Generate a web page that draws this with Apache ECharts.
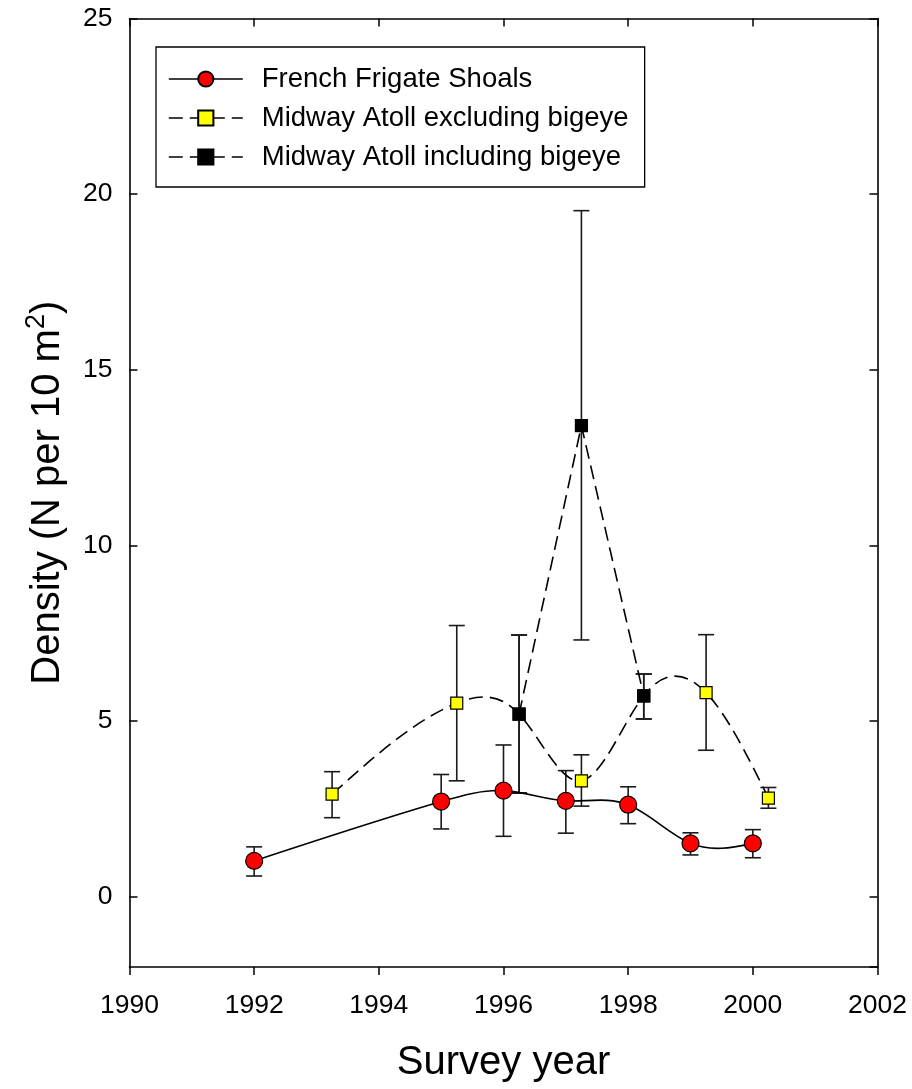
<!DOCTYPE html>
<html><head><meta charset="utf-8">
<script src="https://cdn.jsdelivr.net/npm/echarts@6/dist/echarts.min.js"></script>
<style>html,body{margin:0;padding:0;background:#fff}#c{width:912px;height:1089px}</style>
</head><body><div id="c"></div>
<script>
// ---- data ----
const ffsYears = [1992, 1995, 1996, 1997, 1998, 1999, 2000];
const ffsMean  = [1.02, 2.71, 3.02, 2.73, 2.62, 1.52, 1.52];
const ffsLow   = [0.59, 1.93, 1.72, 1.81, 2.08, 1.19, 1.11];
const ffsHigh  = [1.42, 3.48, 4.32, 3.59, 3.13, 1.82, 1.91];

const exYears = [1993.25, 1995.25, 1996.25, 1997.25, 1998.25, 1999.25, 2000.25];
const exMean  = [2.92, 5.51, 5.20, 3.30, 5.72, 5.81, 2.81];
const exLow   = [2.25, 3.30, 2.95, 2.58, 5.06, 4.17, 2.52];
const exHigh  = [3.56, 7.72, 7.45, 4.04, 6.34, 7.46, 3.11];

const inYears = [1996.25, 1997.25, 1998.25];
const inMean  = [5.20, 13.41, 5.72];
const inLow   = [2.95, 7.31, 5.06];
const inHigh  = [7.45, 19.53, 6.34];

const seriesNames = ['French Frigate Shoals', 'Midway Atoll excluding bigeye', 'Midway Atoll including bigeye'];
const xTicks = [1990, 1992, 1994, 1996, 1998, 2000, 2002];

// ---- helpers ----
const FONT = '"Liberation Sans", Arial, sans-serif';
const DASH = [14, 7];
const pts = (xs, ys) => xs.map((x, i) => [x, ys[i]]);
const errs = (xs, lo, hi) => xs.map((x, i) => [x, lo[i], hi[i]]);

function errRender(params, api) {
  const x = api.value(0), lo = api.value(1), hi = api.value(2);
  const p1 = api.coord([x, hi]), p2 = api.coord([x, lo]);
  const w = 8;
  const style = { stroke: '#1a1a1a', lineWidth: 1.6 };
  return { type: 'group', children: [
    { type: 'line', shape: { x1: p1[0], y1: p1[1], x2: p2[0], y2: p2[1] }, style },
    { type: 'line', shape: { x1: p1[0] - w, y1: p1[1], x2: p1[0] + w, y2: p1[1] }, style },
    { type: 'line', shape: { x1: p2[0] - w, y1: p2[1], x2: p2[0] + w, y2: p2[1] }, style }
  ]};
}
function errSeries(data) {
  return { type: 'custom', renderItem: errRender, data, encode: { x: 0, y: [1, 2] },
           z: 2, silent: true, clip: false };
}

// natural cubic spline slopes (data space) for a smooth curve through the data points
function splineSlopes(xs, ys) {
  const n = xs.length, h = [], M = new Array(n).fill(0);
  for (let i = 0; i < n - 1; i++) h.push(xs[i + 1] - xs[i]);
  if (n > 2) {
    const a = [], b = [], c = [], d = [];
    for (let i = 1; i < n - 1; i++) {
      a.push(h[i - 1]); b.push(2 * (h[i - 1] + h[i])); c.push(h[i]);
      d.push(6 * ((ys[i + 1] - ys[i]) / h[i] - (ys[i] - ys[i - 1]) / h[i - 1]));
    }
    const m = b.length;
    for (let i = 1; i < m; i++) { const w = a[i] / b[i - 1]; b[i] -= w * c[i - 1]; d[i] -= w * d[i - 1]; }
    const sol = new Array(m);
    sol[m - 1] = d[m - 1] / b[m - 1];
    for (let i = m - 2; i >= 0; i--) sol[i] = (d[i] - c[i] * sol[i + 1]) / b[i];
    for (let i = 0; i < m; i++) M[i + 1] = sol[i];
  }
  const s = [];
  for (let i = 0; i < n - 1; i++) s.push((ys[i + 1] - ys[i]) / h[i] - h[i] * (2 * M[i] + M[i + 1]) / 6);
  s.push((ys[n - 1] - ys[n - 2]) / h[n - 2] + h[n - 2] * (M[n - 2] + 2 * M[n - 1]) / 6);
  return s;
}
function curveSeries(xs, ys, dash) {
  const slopes = splineSlopes(xs, ys);
  return {
    type: 'custom', data: pts(xs, ys), encode: { x: 0, y: 1 }, z: 3, silent: true, clip: false,
    renderItem: function (params, api) {
      if (params.dataIndex !== 0) return null;
      let p0 = api.coord([xs[0], ys[0]]);
      let d = 'M' + p0[0] + ' ' + p0[1];
      for (let i = 0; i < xs.length - 1; i++) {
        const hh = xs[i + 1] - xs[i];
        const c1 = api.coord([xs[i] + hh / 3, ys[i] + slopes[i] * hh / 3]);
        const c2 = api.coord([xs[i + 1] - hh / 3, ys[i + 1] - slopes[i + 1] * hh / 3]);
        const p1 = api.coord([xs[i + 1], ys[i + 1]]);
        d += ' C' + c1[0] + ' ' + c1[1] + ' ' + c2[0] + ' ' + c2[1] + ' ' + p1[0] + ' ' + p1[1];
      }
      return { type: 'path', shape: { pathData: d },
               style: { fill: 'none', stroke: '#000', lineWidth: 1.6, lineDash: dash } };
    }
  };
}

const axisLineStyle = { color: '#000', width: 1.6 };
const xCommon = { type: 'value', min: xTicks[0], max: xTicks[xTicks.length - 1], interval: 2,
                  splitLine: { show: false }, axisLine: { show: true, onZero: false, lineStyle: axisLineStyle } };
const yCommon = { type: 'value', min: -2, max: 25, splitNumber: 5,
                  splitLine: { show: false }, axisLine: { show: true, onZero: false, lineStyle: axisLineStyle } };

const chart = echarts.init(document.getElementById('c'), null, { renderer: 'canvas' });
chart.setOption({
  backgroundColor: '#fff',
  animation: false,
  grid: { left: 129.5, right: 34.5, top: 18.5, bottom: 122 },
  legend: {
    data: [
      { name: seriesNames[0], lineStyle: { opacity: 1, color: '#000', width: 1.6, type: 'solid' } },
      { name: seriesNames[1], lineStyle: { opacity: 1, color: '#000', width: 1.6, type: DASH } },
      { name: seriesNames[2], lineStyle: { opacity: 1, color: '#000', width: 1.6, type: DASH } }
    ],
    orient: 'vertical',
    left: 156, top: 47,
    padding: [18, 16, 16, 12],
    itemGap: 11,
    itemWidth: 74, itemHeight: 19,
    borderColor: '#000', borderWidth: 1.3, borderRadius: 0,
    backgroundColor: '#fff',
    textStyle: { fontFamily: FONT, fontSize: 27.5, color: '#000', padding: [0, 0, 0, 14] },
    selectedMode: false
  },
  xAxis: [
    Object.assign({}, xCommon, {
      position: 'bottom',
      name: 'Survey year', nameLocation: 'middle', nameGap: 76,
      nameTextStyle: { fontFamily: FONT, fontSize: 40, color: '#000' },
      axisTick: { show: true, inside: false, length: 8, lineStyle: { color: '#000', width: 1.5 } },
      axisLabel: { fontFamily: FONT, fontSize: 26.5, color: '#000', margin: 25, formatter: v => String(v) }
    }),
    Object.assign({}, xCommon, {
      position: 'top',
      axisTick: { show: true, inside: true, length: 8, lineStyle: { color: '#000', width: 1.5 } },
      axisLabel: { show: false }
    })
  ],
  yAxis: [
    Object.assign({}, yCommon, {
      position: 'left',
      name: '{a|Density (N per 10 m}{s|2}{a|)}', nameLocation: 'middle', nameGap: 58, nameRotate: 90,
      nameTextStyle: { fontFamily: FONT, fontSize: 40, color: '#000',
        rich: { a: { fontFamily: FONT, fontSize: 40, color: '#000', lineHeight: 48 },
                s: { fontFamily: FONT, fontSize: 27, color: '#000', verticalAlign: 'top', lineHeight: 48 } } },
      axisTick: { show: true, inside: true, length: 8, lineStyle: { color: '#000', width: 1.5 } },
      axisLabel: { fontFamily: FONT, fontSize: 26.5, color: '#000', margin: 17, showMinLabel: false,
                   formatter: v => (v < 0 ? '' : String(v)) }
    }),
    Object.assign({}, yCommon, {
      position: 'right',
      axisTick: { show: true, inside: true, length: 8, lineStyle: { color: '#000', width: 1.5 } },
      axisLabel: { show: false }
    })
  ],
  series: [
    errSeries(errs(ffsYears, ffsLow, ffsHigh)),
    errSeries(errs(exYears, exLow, exHigh)),
    errSeries(errs(inYears, inLow, inHigh)),
    curveSeries(ffsYears, ffsMean, null),
    curveSeries(exYears, exMean, DASH),
    {
      name: seriesNames[0], type: 'line', data: pts(ffsYears, ffsMean),
      symbol: 'circle', symbolSize: 17, z: 4,
      lineStyle: { color: '#000', width: 1.6, type: 'solid', opacity: 0 },
      itemStyle: { color: '#ff0000', borderColor: '#000', borderWidth: 1.2 }
    },
    {
      name: seriesNames[1], type: 'line', data: pts(exYears, exMean),
      symbol: 'rect', symbolSize: 12, z: 4,
      lineStyle: { color: '#000', width: 1.6, type: DASH, opacity: 0 },
      itemStyle: { color: '#ffff00', borderColor: '#000', borderWidth: 1.2 }
    },
    {
      name: seriesNames[2], type: 'line', data: pts(inYears, inMean), smooth: false,
      symbol: 'rect', symbolSize: 12, z: 5,
      lineStyle: { color: '#000', width: 1.6, type: DASH },
      itemStyle: { color: '#000000', borderColor: '#000', borderWidth: 1.2 }
    }
  ]
});
</script>
</body></html>
